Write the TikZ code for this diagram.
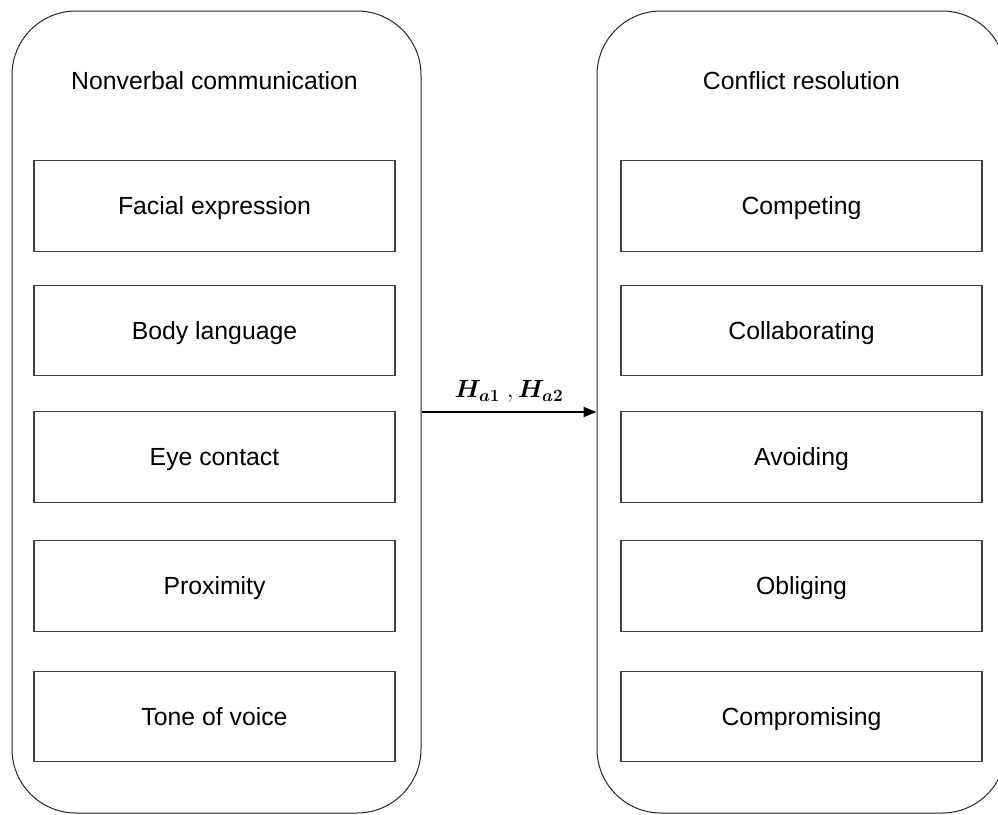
\documentclass[tikz,border=0pt]{standalone}
\usepackage{amsmath}
\usepackage{fontspec}
\setmainfont{Liberation Sans}
\usetikzlibrary{arrows.meta}
\tikzset{
  container/.style={draw=black!85, line width=1pt, rounded corners=64pt,
    minimum width=409pt, minimum height=802pt, inner sep=0pt},
  itembox/.style={draw=black!75, line width=1.3pt, minimum width=361pt,
    minimum height=90.5pt, inner sep=0pt, text height=17.8pt, text depth=0pt,
    font=\fontsize{24.8}{30}\selectfont},
  title/.style={inner sep=0pt, text height=17.8pt, text depth=0pt,
    font=\fontsize{24.8}{30}\selectfont},
  link/.style={line width=2pt, -{Triangle[length=13pt,width=10pt]}}
}
\begin{document}
\begin{tikzpicture}[x=1pt,y=-1pt]
\useasboundingbox (0,0) rectangle (998,814);
\clip (0,0) rectangle (998,814);
\node[container] (L) at (216.5,412) {};
\node[container] (R) at (801.5,412) {};
\node[title] (Lt) at (214.5,80.5) {Nonverbal communication};
\node[title] (Rt) at (801.5,80.5) {Conflict resolution};
\node[itembox] (l1) at (214.5,206) {Facial expression};
\node[itembox] (l2) at (214.5,330.5) {Body language};
\node[itembox] (l3) at (214.5,457) {Eye contact};
\node[itembox] (l4) at (214.5,586) {Proximity};
\node[itembox] (l5) at (214.5,716.5) {Tone of voice};
\node[itembox] (r1) at (801.5,206) {Competing};
\node[itembox] (r2) at (801.5,330.5) {Collaborating};
\node[itembox] (r3) at (801.5,457) {Avoiding};
\node[itembox] (r4) at (801.5,586) {Obliging};
\node[itembox] (r5) at (801.5,716.5) {Compromising};
\draw[link] (L.east) -- (R.west)
  node[midway, above=5pt, font=\fontsize{24}{28}\selectfont] (lab)
  {$\boldsymbol{H_{a1}}\ ,\boldsymbol{H_{a2}}$};
\end{tikzpicture}
\end{document}
